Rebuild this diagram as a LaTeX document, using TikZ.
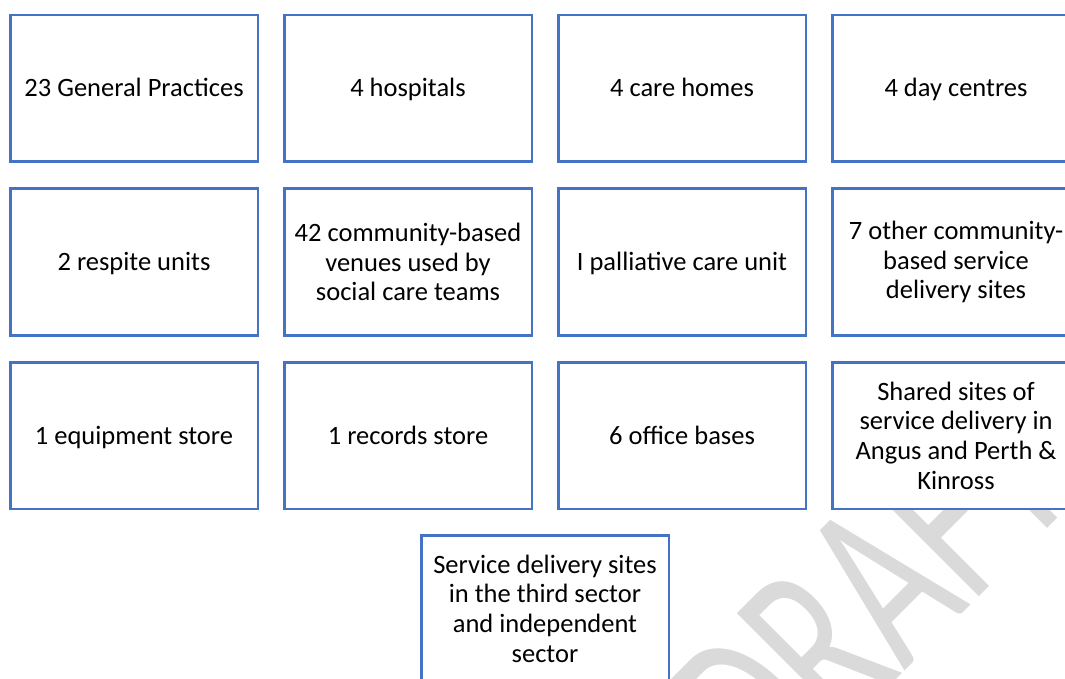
\documentclass[tikz,border=0pt]{standalone}
\usepackage{fontspec}
\setmainfont{Carlito}
\usetikzlibrary{positioning, calc}
\definecolor{bordeSitio}{HTML}{4472C4}
\definecolor{marcaAgua}{HTML}{DADADA}

\begin{document}
\begin{tikzpicture}[x=1pt, y=-1pt, node distance=24.5pt and 24pt,
        font=\fontsize{26.5}{29.7}\selectfont,
        caja/.style={draw=bordeSitio, line width=2.5pt, fill=white,
            minimum width=247.5pt, minimum height=146.5pt, inner sep=2pt},
        site/.style={caja, text height=17pt, text depth=0pt},
        multi/.style={caja, align=center}]
        \useasboundingbox (0,0) rectangle (1065,679);
        \clip (0,0) rectangle (1065,679);
        % watermark behind the boxes
        \node[text=marcaAgua, rotate=45, anchor=base, inner sep=0pt,
            font=\fontsize{248}{248}\selectfont] (wm) at (926,650) {\scalebox{0.66}[1]{DRAFT}};
        % first row
        \node[site] (gp) at (134,88.5) {23 General Practices};
        \node[site, right=of gp] (hosp) {4 hospitals};
        \node[site, right=of hosp] (care) {4 care homes};
        \node[site, right=of care] (day) {4 day centres};
        % second row
        \node[site, below=of gp] (resp) {2 respite units};
        \node[multi, right=of resp] (venue) {42 community-based\\venues used by\\social care teams};
        \node[site, right=of venue] (pall) {I palliative care unit};
        \node[multi, right=of pall] (other) {7 other community-\\based service\\delivery sites};
        % third row
        \node[site, below=of resp] (equip) {1 equipment store};
        \node[site, right=of equip] (rec) {1 records store};
        \node[site, right=of rec] (off) {6 office bases};
        \node[multi, right=of off] (shared) {Shared sites of\\service delivery in\\Angus and Perth \&\\Kinross};
        % last one, centred under the middle pair
        \coordinate (mid) at ($(rec.south)!0.5!(off.south)$);
        \node[multi, below=24pt of mid] (third) {Service delivery sites\\in the third sector\\and independent\\sector};
    \end{tikzpicture}
\end{document}
